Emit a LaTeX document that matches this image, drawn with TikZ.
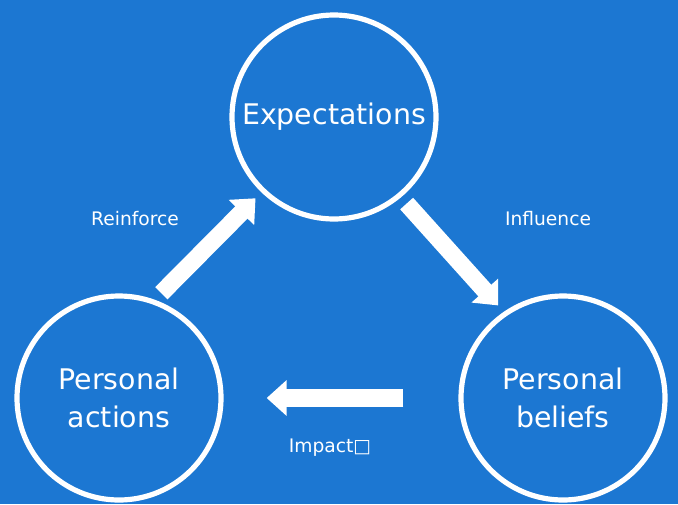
\documentclass[tikz,border=0pt]{standalone}
\usepackage{fontspec}
\setmainfont{DejaVu Sans}
\usepackage{tikz}
\usetikzlibrary{arrows.meta}
\definecolor{slideblue}{RGB}{28,119,210}

\begin{document}
\begin{tikzpicture}[x=0.75pt,y=-0.75pt,font=\fontsize{14}{17}\selectfont]
            \tikzstyle{ring node}=[circle,draw=white,line width=3.9pt,minimum size=153pt,inner sep=0pt,outer sep=8.25pt,text=white,align=center,font=\fontsize{21.3}{28.5}\selectfont]
            \tikzstyle{fat arrow}=[draw=white,line width=13pt,-{Triangle[length=15pt,width=26pt]}]
            \tikzstyle{arrow label}=[text=white,inner sep=0pt]
            \fill[slideblue] (0,0) rectangle (678,504);
            \useasboundingbox (0,0) rectangle (678,504);
            % the three circles
            \node(exp)[ring node] at (334,117) {Expectations};
            \node(act)[ring node] at (119,398) {Personal\\actions};
            \node(bel)[ring node] at (563,398) {Personal\\beliefs};
            % arrows between them
            \draw[fat arrow] (act.68.7) -- (exp.226.4);
            \draw[fat arrow] (exp.310.4) -- (bel.125.8);
            \draw[fat arrow,shorten <=35pt,shorten >=26pt] (bel.180) -- (act.0);
            % labels
            \node(reinforce)[arrow label] at (135,219) {Reinforce};
            \node(influence)[arrow label] at (548,219) {Influence};
            \node(impact)[arrow label] at (330,448) {Impact□};
\end{tikzpicture}
\end{document}
